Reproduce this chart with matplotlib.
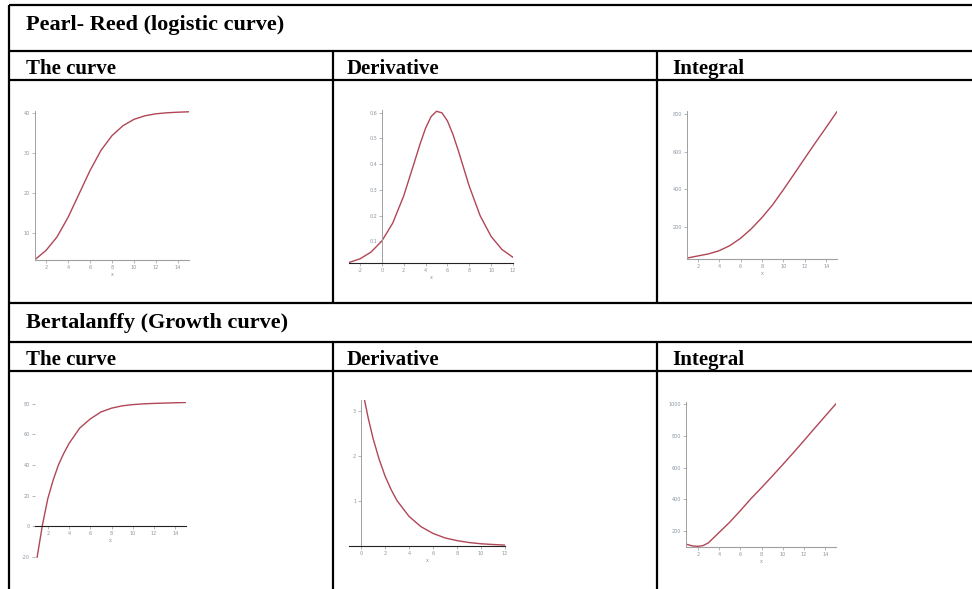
import matplotlib
matplotlib.use("Agg")
import matplotlib.pyplot as plt

W, H = 972, 589

# Values #
# Pearl-Reed: the curve
pr_x = [1, 2, 3, 4, 5, 6, 7, 8, 9, 10, 11, 12, 13, 14, 15]
pr_y = [3.2, 5.5, 8.9, 13.8, 19.7, 25.6, 30.7, 34.4, 36.9, 38.5, 39.4, 39.9, 40.15, 40.3, 40.4]

# Pearl-Reed: derivative
prd_x = [-3, -2, -1, 0, 1, 2, 3, 3.5, 4, 4.5, 5, 5.5, 6, 6.5, 7, 8, 9, 10, 11, 12]
prd_y = [0.018, 0.032, 0.058, 0.101, 0.171, 0.276, 0.410, 0.478, 0.539, 0.584, 0.605, 0.599,
         0.568, 0.516, 0.452, 0.314, 0.199, 0.119, 0.068, 0.038]

# Pearl-Reed: integral
pri_x = [1, 2, 3, 4, 5, 6, 7, 8, 9, 10, 11, 12, 13, 14, 15]
pri_y = [35, 46, 57, 74, 101, 140, 190, 250, 318, 398, 481, 565, 648, 729, 812]

# Bertalanffy: the curve
bc_x = [1, 1.5, 2, 2.5, 3, 3.5, 4, 5, 6, 7, 8, 9, 10, 11, 12, 13, 14, 15]
bc_y = [-20, 1, 18, 30, 40, 47.5, 54, 64, 70, 74.5, 77, 78.5, 79.3, 79.8, 80.1, 80.3, 80.5, 80.7]

# Bertalanffy: derivative
bd_x = [0.3, 0.6, 1, 1.5, 2, 2.5, 3, 4, 5, 6, 7, 8, 9, 10, 11, 12]
bd_y = [3.24, 2.85, 2.4, 1.94, 1.56, 1.26, 1.01, 0.66, 0.43, 0.28, 0.18, 0.12, 0.077, 0.05, 0.033, 0.021]

# Bertalanffy: integral
bi_x = [0.9, 1, 1.5, 2, 2.5, 3, 4, 5, 6, 7, 8, 9, 10, 11, 12, 13, 14, 15]
bi_y = [118, 115, 106, 103, 108, 125, 190, 255, 328, 404, 474, 546, 620, 695, 772, 850, 927, 1004]

# tick values
ticks_x_even = [2, 4, 6, 8, 10, 12, 14]
ticks_pr_y = [10, 20, 30, 40]
ticks_prd_x = [-2, 0, 2, 4, 6, 8, 10, 12]
ticks_prd_y = [0.1, 0.2, 0.3, 0.4, 0.5, 0.6]
ticks_pri_y = [200, 400, 600, 800]
ticks_bc_y = [-20, 0, 20, 40, 60, 80]
ticks_bd_x = [0, 2, 4, 6, 8, 10, 12]
ticks_bd_y = [1, 2, 3]
ticks_bi_y = [200, 400, 600, 800, 1000]

section_titles = ["Pearl- Reed (logistic curve)", "Bertalanffy (Growth curve)"]
col_titles = ["The curve", "Derivative", "Integral"]

CURVE = "#b04656"
TICKTXT = "#8a96a2"


def px_axes(fig, left, right, top, bottom):
    return fig.add_axes([left / W, 1 - bottom / H, (right - left) / W, (bottom - top) / H])


def style(ax, xlim, ylim, xt, yt, yaxis_x, xaxis_color="#a0a0a0", yaxis_color="#a0a0a0",
          show_left=True):
    ax.set_facecolor("none")
    ax.set_xlim(*xlim)
    ax.set_ylim(*ylim)
    ax.set_xticks(xt)
    ax.set_yticks(yt)
    ax.set_xticklabels([f"{v:g}" for v in xt])
    ax.set_yticklabels([f"{v:g}" for v in yt])
    for s in ["top", "right"]:
        ax.spines[s].set_visible(False)
    ax.spines["bottom"].set_position(("data", ylim[0]))
    ax.spines["bottom"].set_color(xaxis_color)
    ax.spines["bottom"].set_linewidth(0.8)
    ax.spines["left"].set_position(("data", yaxis_x))
    ax.spines["left"].set_color(yaxis_color)
    ax.spines["left"].set_linewidth(0.7)
    ax.spines["left"].set_visible(show_left)
    ax.tick_params(length=2, width=0.5, pad=1.5, labelsize=3.5, labelcolor=TICKTXT,
                   colors="#999999", direction="out")
    ax.tick_params(axis="both", labelcolor=TICKTXT)
    ax.set_xlabel("x", fontsize=3.5, color=TICKTXT, labelpad=1.5)


fig = plt.figure(figsize=(W / 100, H / 100), dpi=100)

# Table #
bg = fig.add_axes([0, 0, 1, 1])
bg.set_xlim(0, W)
bg.set_ylim(H, 0)
bg.axis("off")
lw = 1.6
for y in [5, 51, 80, 303, 342, 371]:
    bg.plot([9, W], [y, y], color="black", lw=lw, solid_capstyle="butt")
bg.plot([9, 9], [5, H], color="black", lw=lw, solid_capstyle="butt")
for x in [333, 657]:
    bg.plot([x, x], [51, 303], color="black", lw=lw, solid_capstyle="butt")
    bg.plot([x, x], [342, H], color="black", lw=lw, solid_capstyle="butt")

tfont = dict(family="Liberation Serif", weight="bold", fontsize=16, va="baseline")
hfont = dict(family="Liberation Serif", weight="bold", fontsize=15, va="baseline")
bg.text(26, 30, section_titles[0], **tfont)
bg.text(26, 328, section_titles[1], **tfont)
for x, t in zip([26, 347, 672], col_titles):
    bg.text(x, 74, t, **hfont)
    bg.text(x, 365, t, **hfont)

# Pearl-Reed plots #
ax1 = px_axes(fig, 35, 189, 111, 260)
ax1.plot(pr_x, pr_y, color=CURVE, lw=1.0)
style(ax1, (1, 15), (3.1, 40.6), ticks_x_even, ticks_pr_y, 1)

ax2 = px_axes(fig, 349, 513, 110, 263)
ax2.plot(prd_x, prd_y, color=CURVE, lw=1.0)
style(ax2, (-3, 12), (0.016, 0.61), ticks_prd_x, ticks_prd_y, 0, xaxis_color="#222222")

ax3 = px_axes(fig, 687, 837, 111, 259)
ax3.plot(pri_x, pri_y, color=CURVE, lw=1.0)
style(ax3, (1, 15), (30, 815), ticks_x_even, ticks_pri_y, 1)

# Bertalanffy plots #
ax4 = px_axes(fig, 35, 186, 402, 558)
ax4.plot(bc_x, bc_y, color=CURVE, lw=1.0)
style(ax4, (0.8, 15), (-20.5, 81), ticks_x_even, ticks_bc_y, 0.8,
      xaxis_color="#222222", show_left=False)
ax4.spines["bottom"].set_position(("data", 0))

ax5 = px_axes(fig, 349, 505, 400, 546)
ax5.plot(bd_x, bd_y, color=CURVE, lw=1.0)
style(ax5, (-1, 12), (0, 3.25), ticks_bd_x, ticks_bd_y, 0, xaxis_color="#222222")

ax6 = px_axes(fig, 686, 836, 402, 547)
ax6.plot(bi_x, bi_y, color=CURVE, lw=1.0)
style(ax6, (0.9, 15), (99, 1015), ticks_x_even, ticks_bi_y, 0.9)

fig.savefig("out.png", dpi=100)
